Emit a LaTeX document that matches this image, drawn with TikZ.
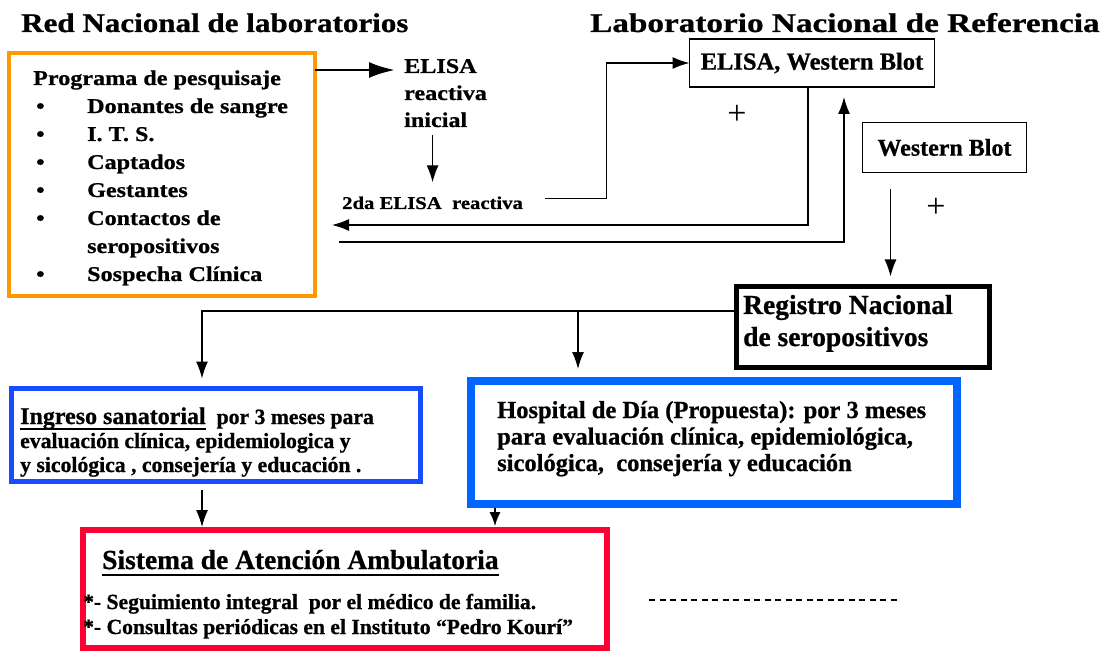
\documentclass[tikz,border=0pt]{standalone}
\usepackage{fontspec}
\setmainfont{Liberation Serif}[BoldFeatures={FakeBold=0.8}]
\newfontfamily\anchafont{Liberation Serif}[FakeStretch=1.15,BoldFeatures={FakeBold=0.8}]
\newfontfamily\anchafontB{Liberation Serif}[FakeStretch=1.23,BoldFeatures={FakeBold=0.8}]
\usetikzlibrary{arrows.meta,calc}

\definecolor{naranja}{RGB}{255,153,0}
\definecolor{azulA}{RGB}{25,75,255}
\definecolor{azulB}{RGB}{0,102,255}
\definecolor{rojo}{RGB}{255,0,51}

\newcommand{\lineas}[1]{\begin{tabular}[t]{@{}l@{}}#1\end{tabular}}
\newcommand{\fs}[2]{\fontsize{#1}{#2}\selectfont}
\newcommand{\subr}[1]{\setbox0\hbox{#1}\rlap{\rule[-0.24em]{\wd0}{0.07em}}\box0}

\begin{document}
\begin{tikzpicture}[x=1pt,y=-1pt,
    caja/.style={draw, inner sep=0pt, outer sep=0pt, anchor=north west},
    texto/.style={inner sep=0pt, anchor=base west},
    flecha/.style={line width=1.3pt, -{Latex[length=17pt,width=12pt]}},
    gruesa/.style={line width=2.6pt, -{Latex[length=26pt,width=16pt]}}]
  \useasboundingbox (0,0) rectangle (1111,652);

  % titulos
  \node[texto, font=\anchafont\bfseries\fs{27}{30}] (tit1) at (21,32) {Red Nacional de laboratorios};
  \node[texto, font=\anchafontB\bfseries\fs{27}{30}] (tit2) at (590,32) {Laboratorio Nacional de Referencia};

  % cajas
  \node[caja, draw=naranja, line width=4pt, minimum width=306pt, minimum height=243pt] (pesq) at (9,53) {};
  \node[caja, line width=1.2pt, minimum width=245pt, minimum height=48pt, font=\bfseries\fs{24.5}{24}] (elisawb) at (689.5,39) {ELISA, Western Blot};
  \node[caja, line width=1.2pt, minimum width=164pt, minimum height=50pt, font=\bfseries\fs{24}{24}] (wb) at (862.5,122.5) {Western Blot};
  \node[caja, line width=5pt, minimum width=253pt, minimum height=81pt] (reg) at (736.5,286.5) {};
  \node[caja, draw=azulA, line width=5pt, minimum width=409pt, minimum height=93pt] (ing) at (11.5,388.5) {};
  \node[caja, draw=azulB, line width=8pt, minimum width=486pt, minimum height=123pt] (hosp) at (471,381) {};
  \node[caja, draw=rojo, line width=5.5pt, minimum width=524pt, minimum height=118pt] (amb) at (83,530) {};

  % textos
  \node[texto, font=\anchafont\bfseries\fs{21}{28}] (lista) at (33,85) {\begin{tabular}[t]{@{}p{54pt}@{}l@{}}
      \multicolumn{2}{@{}l@{}}{Programa de pesquisaje}\\
      \hspace{3pt}\textbullet & Donantes de sangre\\
      \hspace{3pt}\textbullet & I. T. S.\\
      \hspace{3pt}\textbullet & Captados\\
      \hspace{3pt}\textbullet & Gestantes\\
      \hspace{3pt}\textbullet & Contactos de\\
       & seropositivos\\
      \hspace{3pt}\textbullet & Sospecha Clínica
    \end{tabular}};
  \node[texto, font=\anchafont\bfseries\fs{21}{27}] (elisa) at (404,73) {\lineas{ELISA\\reactiva\\inicial}};
  \node[texto, font=\anchafont\bfseries\fs{18}{20}] (elisa2) at (342,209) {2da ELISA\ \ reactiva};
  \node[font=\fs{34}{34}] (mas1) at (737,115) {+};
  \node[font=\fs{34}{34}] (mas2) at (936,208) {+};
  \node[texto, font=\bfseries\fs{27.5}{32}] (regtxt) at (743,314) {\lineas{Registro Nacional\\de seropositivos}};
  \node[texto, font=\bfseries\fs{21.7}{24}] (ingtxt) at (20,424) {\lineas{{\fs{24}{24}\subr{Ingreso sanatorial}}\ \ por 3 meses para\\
      evaluación clínica, epidemiologica y\\
      y sicológica , consejería y educación .}};
  \node[texto, font=\bfseries\fs{24.5}{26.5}] (hosptxt) at (497,418) {\lineas{Hospital de Día (Propuesta): por 3 meses\\
      para evaluación clínica, epidemiológica,\\
      sicológica,\ \ consejería y educación}};
  \node[texto, font=\bfseries\fs{27.5}{30}] (amptxt) at (102,569) {\subr{Sistema de Atención Ambulatoria}};
  \node[texto, font=\bfseries\fs{21.6}{25}] (segtxt) at (83,609) {\lineas{*- Seguimiento integral\ \ por el médico de familia.\\
      {}*- Consultas periódicas en el Instituto “Pedro Kourí”}};

  % conectores
  \coordinate (ret) at (332,225);
  \coordinate (wbini) at (339,242);
  \coordinate (wbs) at ([xshift=-54pt,yshift=-17pt]wb.south);
  \coordinate (rl) at ([yshift=16pt]reg.west);
  \coordinate (rama) at ([xshift=-136pt]hosp.north);
  \coordinate (ings) at ([xshift=-14pt,yshift=-8pt]ing.south);
  \coordinate (hosps) at ([xshift=-219pt,yshift=-4pt]hosp.south);

  \draw[gruesa] ($(pesq.north east)+(0,17)$) -- ($(elisa.base west)+(-9,-3)$);
  \draw[flecha, shorten >=14pt] (elisa.south -| elisa2.north) -- (elisa2.north);
  \draw[flecha] ([xshift=22pt,yshift=4pt]elisa2.east) -| ([xshift=-83pt]elisawb.west) -- (elisawb.west);
  \draw[flecha] ([xshift=-4pt]elisawb.south) |- (ret);
  \draw[flecha] (wbini) -| ([xshift=32pt,yshift=-10pt]elisawb.south);
  \draw[flecha, shorten >=10pt] (wbs) -- (wbs |- reg.north);
  \draw[flecha, shorten >=10pt] (rl) -| ([xshift=-14pt]ing.north);
  \draw[flecha, shorten >=12pt] (rama |- rl) -- (rama);
  \draw[flecha, shorten >=3pt] (ings) -- (ings |- amb.north);
  \draw[flecha, -{Latex[length=14pt,width=11pt]}, shorten >=4pt] (hosps) -- (hosps |- amb.north);

  % linea discontinua
  \coordinate (d1) at (649,600);
  \coordinate (d2) at (900,600);
  \draw[line width=1.4pt, dash pattern=on 6pt off 4.5pt] (d1) -- (d2);
\end{tikzpicture}
\end{document}
